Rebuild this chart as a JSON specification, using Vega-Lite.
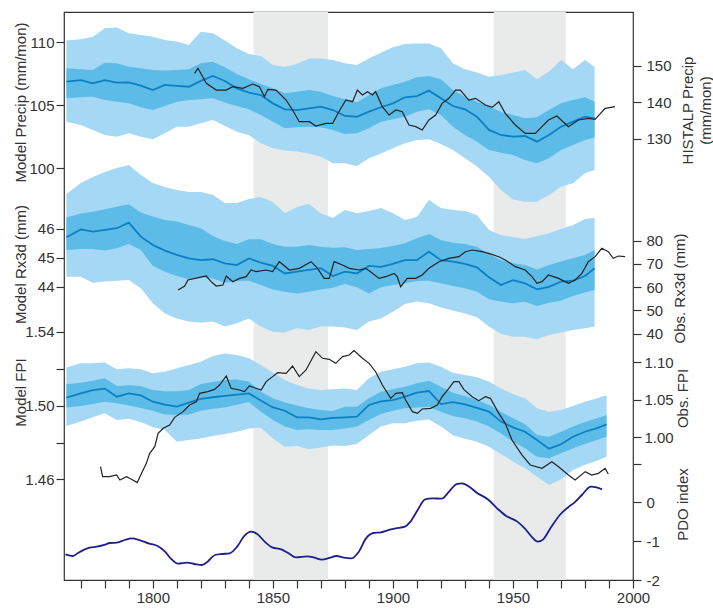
{
"$schema": "https://vega.github.io/schema/vega-lite/v6.json",
"width": 569, "height": 568,
"autosize": {"type": "none"},
"padding": {"left": 64, "top": 12, "right": 80, "bottom": 30},
"background": "white",
"config": {
  "view": {"stroke": "#333", "strokeWidth": 1.2},
  "font": "Liberation Sans",
  "axis": {"labelFont": "Liberation Sans", "titleFont": "Liberation Sans", "labelFontSize": 15, "titleFontSize": 15, "titleFontWeight": "normal", "labelColor": "#333", "titleColor": "#333", "tickColor": "#333", "domainColor": "#333", "tickSize": 8, "tickWidth": 1.2, "labelPadding": 3, "grid": false, "domain": false, "labelOverlap": false, "labelFlush": false}
},
"datasets": {
"bands": [{"year": 1842, "yearEnd": 1873}, {"year": 1942, "yearEnd": 1972}],
"precip": [
{"year":1764,"oHi":110.11,"iHi":107.91,"m":106.85,"iLo":105.53,"oLo":103.68},
{"year":1770,"oHi":110.21,"iHi":107.83,"m":106.98,"iLo":105.61,"oLo":103.41},
{"year":1775,"oHi":110.42,"iHi":107.78,"m":106.72,"iLo":105.66,"oLo":103.02},
{"year":1780,"oHi":111.09,"iHi":108.36,"m":106.98,"iLo":105.40,"oLo":102.62},
{"year":1785,"oHi":111.16,"iHi":108.31,"m":106.77,"iLo":105.26,"oLo":102.49},
{"year":1790,"oHi":110.69,"iHi":108.04,"m":106.80,"iLo":105.13,"oLo":102.75},
{"year":1795,"oHi":110.56,"iHi":107.91,"m":106.53,"iLo":104.82,"oLo":102.49},
{"year":1800,"oHi":110.42,"iHi":107.78,"m":106.19,"iLo":104.60,"oLo":102.28},
{"year":1805,"oHi":110.16,"iHi":107.73,"m":106.59,"iLo":104.92,"oLo":102.75},
{"year":1810,"oHi":110.03,"iHi":107.78,"m":106.51,"iLo":105.26,"oLo":103.28},
{"year":1815,"oHi":109.76,"iHi":107.83,"m":106.45,"iLo":105.40,"oLo":103.28},
{"year":1820,"oHi":110.82,"iHi":108.31,"m":106.91,"iLo":105.45,"oLo":103.55},
{"year":1825,"oHi":110.69,"iHi":108.44,"m":107.30,"iLo":105.53,"oLo":103.81},
{"year":1830,"oHi":110.11,"iHi":107.99,"m":106.91,"iLo":105.19,"oLo":103.33},
{"year":1835,"oHi":109.50,"iHi":107.46,"m":106.32,"iLo":104.92,"oLo":102.88},
{"year":1840,"oHi":109.05,"iHi":107.04,"m":105.98,"iLo":104.66,"oLo":102.62},
{"year":1845,"oHi":108.89,"iHi":106.67,"m":105.79,"iLo":104.21,"oLo":101.96},
{"year":1850,"oHi":108.18,"iHi":106.32,"m":105.13,"iLo":103.68,"oLo":101.56},
{"year":1855,"oHi":108.04,"iHi":105.93,"m":104.66,"iLo":103.15,"oLo":101.38},
{"year":1860,"oHi":108.25,"iHi":106.06,"m":104.60,"iLo":103.23,"oLo":101.30},
{"year":1865,"oHi":108.70,"iHi":106.19,"m":104.74,"iLo":103.28,"oLo":101.16},
{"year":1870,"oHi":108.70,"iHi":106.06,"m":104.87,"iLo":103.23,"oLo":100.90},
{"year":1875,"oHi":108.57,"iHi":105.71,"m":104.60,"iLo":103.02,"oLo":100.37},
{"year":1880,"oHi":108.31,"iHi":105.45,"m":104.13,"iLo":102.70,"oLo":100.37},
{"year":1885,"oHi":108.18,"iHi":105.19,"m":104.07,"iLo":102.75,"oLo":100.16},
{"year":1890,"oHi":108.70,"iHi":105.79,"m":104.47,"iLo":103.15,"oLo":100.77},
{"year":1895,"oHi":109.15,"iHi":106.32,"m":104.82,"iLo":103.68,"oLo":101.16},
{"year":1900,"oHi":109.58,"iHi":106.59,"m":105.13,"iLo":103.86,"oLo":101.56},
{"year":1905,"oHi":109.84,"iHi":106.85,"m":105.61,"iLo":104.07,"oLo":101.96},
{"year":1910,"oHi":109.89,"iHi":107.20,"m":105.71,"iLo":104.47,"oLo":102.22},
{"year":1915,"oHi":109.89,"iHi":107.30,"m":106.14,"iLo":104.66,"oLo":102.28},
{"year":1920,"oHi":109.50,"iHi":107.04,"m":105.53,"iLo":104.21,"oLo":101.91},
{"year":1925,"oHi":108.31,"iHi":106.19,"m":104.92,"iLo":103.28,"oLo":101.43},
{"year":1930,"oHi":107.83,"iHi":105.66,"m":104.66,"iLo":102.62,"oLo":100.77},
{"year":1935,"oHi":107.57,"iHi":105.26,"m":104.07,"iLo":102.09,"oLo":100.11},
{"year":1940,"oHi":107.25,"iHi":104.87,"m":103.02,"iLo":101.43,"oLo":99.31},
{"year":1945,"oHi":107.38,"iHi":104.47,"m":102.62,"iLo":101.22,"oLo":98.25},
{"year":1950,"oHi":107.57,"iHi":104.21,"m":102.49,"iLo":101.03,"oLo":97.51},
{"year":1955,"oHi":107.78,"iHi":103.94,"m":102.54,"iLo":100.64,"oLo":97.33},
{"year":1960,"oHi":107.04,"iHi":104.02,"m":102.09,"iLo":100.37,"oLo":97.33},
{"year":1965,"oHi":107.65,"iHi":104.60,"m":102.62,"iLo":100.77,"oLo":97.86},
{"year":1970,"oHi":108.57,"iHi":105.13,"m":103.28,"iLo":101.43,"oLo":98.52},
{"year":1975,"oHi":107.83,"iHi":105.40,"m":103.68,"iLo":101.83,"oLo":98.78},
{"year":1980,"oHi":108.57,"iHi":105.61,"m":104.07,"iLo":102.22,"oLo":99.58},
{"year":1984,"oHi":108.04,"iHi":105.26,"m":103.94,"iLo":102.43,"oLo":99.84}
],
"histalp": [
{"year":1817.4,"v":147.86},{"year":1818.8,"v":149.23},{"year":1822.3,"v":145.13},{"year":1826.4,"v":143.30},{"year":1830.5,"v":143.30},{"year":1833.3,"v":144.22},{"year":1837.5,"v":143.76},{"year":1841.6,"v":144.94},{"year":1844.4,"v":144.22},{"year":1846.5,"v":141.48},{"year":1847.9,"v":143.49},{"year":1851.3,"v":143.30},{"year":1855.5,"v":140.57},{"year":1858.2,"v":137.84},{"year":1861.0,"v":134.65},{"year":1865.2,"v":134.65},{"year":1867.9,"v":133.47},{"year":1872.1,"v":134.20},{"year":1874.9,"v":134.20},{"year":1877.6,"v":137.5},{"year":1880.4,"v":140.57},{"year":1883.2,"v":140.12},{"year":1885.2,"v":143.30},{"year":1887.3,"v":141.94},{"year":1889.4,"v":142.85},{"year":1891.5,"v":141.94},{"year":1892.8,"v":142.85},{"year":1895.6,"v":138.75},{"year":1898.4,"v":136.47},{"year":1901.2,"v":137.84},{"year":1903.9,"v":137.39},{"year":1906.7,"v":133.74},{"year":1909.5,"v":133.29},{"year":1912.2,"v":132.38},{"year":1915.0,"v":135.11},{"year":1917.8,"v":136.47},{"year":1920.5,"v":139.66},{"year":1923.3,"v":141.03},{"year":1926.1,"v":143.30},{"year":1928.1,"v":143.30},{"year":1931.6,"v":140.57},{"year":1934.4,"v":141.03},{"year":1938.5,"v":139.21},{"year":1941.3,"v":138.57},{"year":1944.1,"v":140.12},{"year":1946.8,"v":136.93},{"year":1951.0,"v":133.74},{"year":1955.1,"v":131.46},{"year":1959.3,"v":131.46},{"year":1962.1,"v":133.29},{"year":1964.8,"v":135.11},{"year":1968.3,"v":136.20},{"year":1973.1,"v":133.29},{"year":1977.3,"v":135.11},{"year":1981.4,"v":135.56},{"year":1984.2,"v":135.29},{"year":1988.4,"v":138.30},{"year":1992.5,"v":138.75}
],
"rx3d": [
{"year":1764,"oHi":47.19,"iHi":46.38,"m":45.70,"iLo":45.26,"oLo":44.34},
{"year":1770,"oHi":47.57,"iHi":46.52,"m":45.97,"iLo":45.29,"oLo":44.34},
{"year":1775,"oHi":47.78,"iHi":46.58,"m":45.89,"iLo":45.29,"oLo":44.13},
{"year":1780,"oHi":47.95,"iHi":46.66,"m":45.95,"iLo":45.24,"oLo":44.17},
{"year":1785,"oHi":48.09,"iHi":46.75,"m":46.01,"iLo":45.32,"oLo":44.20},
{"year":1790,"oHi":48.19,"iHi":46.84,"m":46.20,"iLo":45.47,"oLo":44.22},
{"year":1795,"oHi":47.85,"iHi":46.55,"m":45.72,"iLo":45.26,"oLo":43.94},
{"year":1800,"oHi":47.57,"iHi":46.41,"m":45.43,"iLo":44.71,"oLo":43.42},
{"year":1805,"oHi":47.43,"iHi":46.29,"m":45.24,"iLo":44.51,"oLo":43.07},
{"year":1810,"oHi":47.33,"iHi":46.24,"m":45.09,"iLo":44.36,"oLo":42.90},
{"year":1815,"oHi":47.26,"iHi":46.12,"m":44.97,"iLo":44.25,"oLo":42.79},
{"year":1820,"oHi":47.26,"iHi":46.01,"m":44.91,"iLo":44.32,"oLo":42.75},
{"year":1825,"oHi":47.16,"iHi":45.74,"m":44.94,"iLo":44.28,"oLo":42.79},
{"year":1830,"oHi":46.88,"iHi":45.57,"m":44.80,"iLo":44.13,"oLo":42.62},
{"year":1835,"oHi":46.88,"iHi":45.47,"m":44.74,"iLo":44.19,"oLo":42.73},
{"year":1840,"oHi":47.02,"iHi":45.63,"m":44.97,"iLo":44.20,"oLo":42.90},
{"year":1845,"oHi":47.09,"iHi":45.63,"m":44.82,"iLo":44.05,"oLo":42.62},
{"year":1850,"oHi":46.91,"iHi":45.47,"m":44.71,"iLo":43.90,"oLo":42.44},
{"year":1855,"oHi":46.53,"iHi":45.37,"m":44.45,"iLo":43.82,"oLo":42.41},
{"year":1860,"oHi":46.74,"iHi":45.37,"m":44.51,"iLo":43.76,"oLo":42.56},
{"year":1865,"oHi":46.85,"iHi":45.43,"m":44.57,"iLo":43.82,"oLo":42.50},
{"year":1870,"oHi":46.53,"iHi":45.37,"m":44.63,"iLo":43.90,"oLo":42.62},
{"year":1875,"oHi":46.36,"iHi":45.34,"m":44.36,"iLo":43.96,"oLo":42.62},
{"year":1880,"oHi":46.64,"iHi":45.35,"m":44.51,"iLo":44.09,"oLo":42.59},
{"year":1885,"oHi":46.53,"iHi":45.26,"m":44.45,"iLo":43.97,"oLo":42.50},
{"year":1890,"oHi":46.60,"iHi":45.29,"m":44.71,"iLo":43.76,"oLo":42.79},
{"year":1895,"oHi":46.71,"iHi":45.33,"m":44.68,"iLo":43.97,"oLo":42.90},
{"year":1900,"oHi":46.53,"iHi":45.40,"m":44.78,"iLo":44.05,"oLo":43.13},
{"year":1905,"oHi":46.29,"iHi":45.49,"m":44.91,"iLo":44.11,"oLo":43.40},
{"year":1910,"oHi":46.40,"iHi":45.66,"m":44.91,"iLo":44.19,"oLo":43.48},
{"year":1915,"oHi":46.98,"iHi":45.81,"m":45.20,"iLo":44.20,"oLo":43.42},
{"year":1920,"oHi":46.71,"iHi":45.60,"m":44.91,"iLo":44.11,"oLo":43.28},
{"year":1925,"oHi":46.64,"iHi":45.51,"m":44.86,"iLo":44.02,"oLo":43.17},
{"year":1930,"oHi":46.60,"iHi":45.47,"m":44.78,"iLo":43.94,"oLo":43.07},
{"year":1935,"oHi":46.47,"iHi":45.37,"m":44.66,"iLo":43.82,"oLo":42.94},
{"year":1940,"oHi":45.95,"iHi":45.12,"m":44.32,"iLo":43.56,"oLo":42.62},
{"year":1945,"oHi":45.78,"iHi":44.91,"m":44.05,"iLo":43.48,"oLo":42.36},
{"year":1950,"oHi":45.71,"iHi":44.80,"m":44.22,"iLo":43.42,"oLo":42.27},
{"year":1955,"oHi":45.64,"iHi":44.74,"m":44.11,"iLo":43.47,"oLo":42.27},
{"year":1960,"oHi":45.74,"iHi":44.59,"m":43.90,"iLo":43.33,"oLo":42.18},
{"year":1965,"oHi":45.84,"iHi":44.74,"m":43.99,"iLo":43.44,"oLo":42.33},
{"year":1970,"oHi":45.98,"iHi":44.86,"m":44.17,"iLo":43.51,"oLo":42.41},
{"year":1975,"oHi":46.12,"iHi":44.97,"m":44.20,"iLo":43.67,"oLo":42.50},
{"year":1980,"oHi":46.33,"iHi":45.09,"m":44.36,"iLo":43.79,"oLo":42.56},
{"year":1984,"oHi":46.36,"iHi":45.26,"m":44.63,"iLo":43.88,"oLo":42.62}
],
"rx3dObs": [
{"year":1810.5,"v":58.75},{"year":1813.3,"v":60.47},{"year":1814.6,"v":63.06},{"year":1819.5,"v":64.21},{"year":1822.2,"v":64.78},{"year":1824.3,"v":62.34},{"year":1826.4,"v":60.47},{"year":1829.2,"v":60.90},{"year":1830.6,"v":64.78},{"year":1833.3,"v":62.34},{"year":1836.1,"v":63.77},{"year":1838.9,"v":64.49},{"year":1840.9,"v":67.37},{"year":1843.0,"v":66.65},{"year":1847.2,"v":67.37},{"year":1849.9,"v":66.65},{"year":1852.7,"v":70.96},{"year":1856.9,"v":67.37},{"year":1861.0,"v":68.09},{"year":1865.9,"v":70.96},{"year":1868.6,"v":68.09},{"year":1871.4,"v":63.77},{"year":1873.5,"v":63.77},{"year":1875.5,"v":70.96},{"year":1879.0,"v":69.52},{"year":1881.8,"v":68.09},{"year":1885.9,"v":67.37},{"year":1888.7,"v":68.09},{"year":1891.5,"v":65.93},{"year":1894.2,"v":63.77},{"year":1897.0,"v":64.49},{"year":1900.5,"v":65.93},{"year":1901.8,"v":64.49},{"year":1903.2,"v":60.18},{"year":1906.0,"v":63.77},{"year":1909.5,"v":63.77},{"year":1912.2,"v":65.21},{"year":1915.0,"v":68.09},{"year":1919.2,"v":70.96},{"year":1923.3,"v":72.40},{"year":1927.5,"v":73.11},{"year":1930.2,"v":75.27},{"year":1933.0,"v":75.99},{"year":1937.1,"v":75.27},{"year":1939.9,"v":74.55},{"year":1944.1,"v":73.11},{"year":1946.8,"v":71.68},{"year":1951.0,"v":68.80},{"year":1955.1,"v":67.37},{"year":1957.9,"v":64.49},{"year":1960.0,"v":61.62},{"year":1962.1,"v":62.34},{"year":1964.8,"v":65.21},{"year":1969.0,"v":63.77},{"year":1973.1,"v":61.62},{"year":1975.9,"v":63.06},{"year":1978.7,"v":65.93},{"year":1981.4,"v":70.96},{"year":1984.2,"v":73.11},{"year":1987.0,"v":76.71},{"year":1989.7,"v":75.27},{"year":1991.8,"v":72.40},{"year":1993.9,"v":73.40},{"year":1996.7,"v":73.11}
],
"fpi": [
{"year":1764,"oHi":1.5208,"iHi":1.5116,"m":1.5044,"iLo":1.4990,"oLo":1.4890},
{"year":1770,"oHi":1.5230,"iHi":1.5125,"m":1.5067,"iLo":1.4999,"oLo":1.4914},
{"year":1775,"oHi":1.5230,"iHi":1.5136,"m":1.5085,"iLo":1.5009,"oLo":1.4937},
{"year":1780,"oHi":1.5234,"iHi":1.5149,"m":1.5093,"iLo":1.5022,"oLo":1.4959},
{"year":1785,"oHi":1.5198,"iHi":1.5107,"m":1.5049,"iLo":1.5013,"oLo":1.4923},
{"year":1790,"oHi":1.5203,"iHi":1.5111,"m":1.5067,"iLo":1.5002,"oLo":1.4930},
{"year":1795,"oHi":1.5198,"iHi":1.5107,"m":1.5056,"iLo":1.4988,"oLo":1.4912},
{"year":1800,"oHi":1.5176,"iHi":1.5085,"m":1.5022,"iLo":1.4973,"oLo":1.4883},
{"year":1805,"oHi":1.5185,"iHi":1.5078,"m":1.5006,"iLo":1.4952,"oLo":1.4868},
{"year":1810,"oHi":1.5203,"iHi":1.5078,"m":1.4995,"iLo":1.4950,"oLo":1.4805},
{"year":1815,"oHi":1.5221,"iHi":1.5085,"m":1.5017,"iLo":1.4952,"oLo":1.4814},
{"year":1820,"oHi":1.5239,"iHi":1.5118,"m":1.5037,"iLo":1.4973,"oLo":1.4823},
{"year":1825,"oHi":1.5270,"iHi":1.5129,"m":1.5046,"iLo":1.4984,"oLo":1.4836},
{"year":1830,"oHi":1.5284,"iHi":1.5140,"m":1.5053,"iLo":1.4991,"oLo":1.4847},
{"year":1835,"oHi":1.5275,"iHi":1.5143,"m":1.5060,"iLo":1.5006,"oLo":1.4859},
{"year":1840,"oHi":1.5257,"iHi":1.5132,"m":1.5067,"iLo":1.5020,"oLo":1.4877},
{"year":1845,"oHi":1.5221,"iHi":1.5076,"m":1.5028,"iLo":1.4968,"oLo":1.4881},
{"year":1850,"oHi":1.5179,"iHi":1.5040,"m":1.4991,"iLo":1.4923,"oLo":1.4823},
{"year":1855,"oHi":1.5140,"iHi":1.5017,"m":1.4973,"iLo":1.4887,"oLo":1.4778},
{"year":1860,"oHi":1.5113,"iHi":1.5002,"m":1.4937,"iLo":1.4868,"oLo":1.4782},
{"year":1865,"oHi":1.5094,"iHi":1.4986,"m":1.4937,"iLo":1.4872,"oLo":1.4764},
{"year":1870,"oHi":1.5085,"iHi":1.4977,"m":1.4926,"iLo":1.4868,"oLo":1.4774},
{"year":1875,"oHi":1.5089,"iHi":1.4972,"m":1.4934,"iLo":1.4868,"oLo":1.4785},
{"year":1880,"oHi":1.5093,"iHi":1.4995,"m":1.4937,"iLo":1.4877,"oLo":1.4782},
{"year":1885,"oHi":1.5085,"iHi":1.4995,"m":1.4941,"iLo":1.4887,"oLo":1.4793},
{"year":1890,"oHi":1.5149,"iHi":1.5040,"m":1.5004,"iLo":1.4923,"oLo":1.4841},
{"year":1895,"oHi":1.5185,"iHi":1.5076,"m":1.5024,"iLo":1.4955,"oLo":1.4887},
{"year":1900,"oHi":1.5198,"iHi":1.5089,"m":1.5031,"iLo":1.4973,"oLo":1.4905},
{"year":1905,"oHi":1.5212,"iHi":1.5103,"m":1.5049,"iLo":1.4986,"oLo":1.4905},
{"year":1910,"oHi":1.5230,"iHi":1.5122,"m":1.5071,"iLo":1.4991,"oLo":1.4919},
{"year":1915,"oHi":1.5234,"iHi":1.5136,"m":1.5080,"iLo":1.4995,"oLo":1.4926},
{"year":1920,"oHi":1.5212,"iHi":1.5103,"m":1.5009,"iLo":1.4968,"oLo":1.4887},
{"year":1925,"oHi":1.5179,"iHi":1.5071,"m":1.5020,"iLo":1.4944,"oLo":1.4840},
{"year":1930,"oHi":1.5167,"iHi":1.5053,"m":1.5008,"iLo":1.4932,"oLo":1.4821},
{"year":1935,"oHi":1.5154,"iHi":1.5031,"m":1.4988,"iLo":1.4914,"oLo":1.4805},
{"year":1940,"oHi":1.5131,"iHi":1.5004,"m":1.4968,"iLo":1.4887,"oLo":1.4778},
{"year":1945,"oHi":1.5094,"iHi":1.4968,"m":1.4914,"iLo":1.4850,"oLo":1.4738},
{"year":1950,"oHi":1.5064,"iHi":1.4932,"m":1.4883,"iLo":1.4805,"oLo":1.4697},
{"year":1955,"oHi":1.5040,"iHi":1.4901,"m":1.4859,"iLo":1.4769,"oLo":1.4661},
{"year":1960,"oHi":1.4986,"iHi":1.4841,"m":1.4814,"iLo":1.4724,"oLo":1.4615},
{"year":1965,"oHi":1.4968,"iHi":1.4832,"m":1.4767,"iLo":1.4715,"oLo":1.4570},
{"year":1970,"oHi":1.4977,"iHi":1.4859,"m":1.4791,"iLo":1.4742,"oLo":1.4601},
{"year":1975,"oHi":1.4999,"iHi":1.4887,"m":1.4832,"iLo":1.4769,"oLo":1.4651},
{"year":1980,"oHi":1.5022,"iHi":1.4912,"m":1.4859,"iLo":1.4793,"oLo":1.4680},
{"year":1985,"oHi":1.5040,"iHi":1.4932,"m":1.4879,"iLo":1.4814,"oLo":1.4702},
{"year":1989,"oHi":1.5058,"iHi":1.4950,"m":1.4899,"iLo":1.4832,"oLo":1.4724}
],
"fpiObs": [
{"year":1778.2,"v":0.9607},{"year":1779.1,"v":0.9474},{"year":1782.1,"v":0.9474},{"year":1784.9,"v":0.9496},{"year":1786.3,"v":0.9429},{"year":1789.0,"v":0.9474},{"year":1791.1,"v":0.9438},{"year":1793.5,"v":0.9394},{"year":1795.3,"v":0.9518},{"year":1797.3,"v":0.9652},{"year":1798.7,"v":0.9786},{"year":1800.8,"v":0.9875},{"year":1802.2,"v":1.0053},{"year":1804.3,"v":1.0120},{"year":1807.0,"v":1.0164},{"year":1809.1,"v":1.0267},{"year":1812.6,"v":1.0343},{"year":1815.3,"v":1.0432},{"year":1818.1,"v":1.0476},{"year":1819.5,"v":1.0588},{"year":1822.9,"v":1.0610},{"year":1825.7,"v":1.0641},{"year":1827.8,"v":1.0699},{"year":1830.6,"v":1.0820},{"year":1832.6,"v":1.0655},{"year":1836.1,"v":1.0632},{"year":1838.2,"v":1.0610},{"year":1840.2,"v":1.0686},{"year":1843.0,"v":1.0655},{"year":1845.1,"v":1.0632},{"year":1847.2,"v":1.0744},{"year":1849.9,"v":1.0811},{"year":1852.0,"v":1.0864},{"year":1855.5,"v":1.0855},{"year":1858.2,"v":1.0953},{"year":1861.0,"v":1.0811},{"year":1863.8,"v":1.0900},{"year":1867.9,"v":1.1145},{"year":1870.7,"v":1.1056},{"year":1873.5,"v":1.1042},{"year":1876.2,"v":1.0989},{"year":1879.0,"v":1.1078},{"year":1881.8,"v":1.1100},{"year":1883.8,"v":1.1158},{"year":1887.3,"v":1.1056},{"year":1890.1,"v":1.0989},{"year":1892.8,"v":1.0877},{"year":1895.6,"v":1.0699},{"year":1899.1,"v":1.0521},{"year":1901.2,"v":1.0588},{"year":1903.9,"v":1.0597},{"year":1905.3,"v":1.0499},{"year":1908.1,"v":1.0343},{"year":1910.2,"v":1.0320},{"year":1912.2,"v":1.0378},{"year":1915.7,"v":1.0387},{"year":1918.5,"v":1.0432},{"year":1920.5,"v":1.0543},{"year":1923.3,"v":1.0655},{"year":1925.4,"v":1.0744},{"year":1927.5,"v":1.0744},{"year":1929.5,"v":1.0641},{"year":1933.0,"v":1.0543},{"year":1935.8,"v":1.0490},{"year":1938.5,"v":1.0543},{"year":1940.6,"v":1.0521},{"year":1944.1,"v":1.0320},{"year":1946.8,"v":1.0187},{"year":1949.6,"v":0.9964},{"year":1953.8,"v":0.9763},{"year":1957.2,"v":0.9630},{"year":1962.1,"v":0.9585},{"year":1966.2,"v":0.9674},{"year":1969.0,"v":0.9607},{"year":1973.1,"v":0.9496},{"year":1975.9,"v":0.9429},{"year":1980.1,"v":0.9541},{"year":1982.8,"v":0.9496},{"year":1985.6,"v":0.9518},{"year":1988.4,"v":0.9585},{"year":1989.7,"v":0.9510}
],
"pdo": [
{"year":1763.6,"v":-1.338},{"year":1766.7,"v":-1.381},{"year":1769.0,"v":-1.295},{"year":1773.6,"v":-1.165},{"year":1776.7,"v":-1.140},{"year":1779.8,"v":-1.096},{"year":1782.1,"v":-1.045},{"year":1785.1,"v":-1.036},{"year":1788.2,"v":-0.968},{"year":1791.3,"v":-0.925},{"year":1794.4,"v":-0.968},{"year":1798.2,"v":-1.053},{"year":1802.0,"v":-1.122},{"year":1805.1,"v":-1.269},{"year":1807.4,"v":-1.441},{"year":1810.5,"v":-1.578},{"year":1814.3,"v":-1.552},{"year":1817.4,"v":-1.587},{"year":1820.5,"v":-1.613},{"year":1822.8,"v":-1.527},{"year":1825.9,"v":-1.355},{"year":1828.9,"v":-1.329},{"year":1832.0,"v":-1.312},{"year":1835.1,"v":-1.140},{"year":1838.1,"v":-0.864},{"year":1840.9,"v":-0.753},{"year":1843.5,"v":-0.813},{"year":1846.6,"v":-1.011},{"year":1849.7,"v":-1.157},{"year":1853.5,"v":-1.208},{"year":1856.6,"v":-1.312},{"year":1859.6,"v":-1.415},{"year":1864.3,"v":-1.389},{"year":1867.3,"v":-1.424},{"year":1870.4,"v":-1.475},{"year":1873.5,"v":-1.432},{"year":1876.5,"v":-1.381},{"year":1879.6,"v":-1.424},{"year":1882.7,"v":-1.441},{"year":1885.8,"v":-1.269},{"year":1888.8,"v":-0.925},{"year":1891.9,"v":-0.787},{"year":1895.0,"v":-0.770},{"year":1898.0,"v":-0.710},{"year":1901.1,"v":-0.667},{"year":1905.0,"v":-0.624},{"year":1907.3,"v":-0.494},{"year":1910.3,"v":-0.194},{"year":1913.4,"v":0.082},{"year":1916.5,"v":0.108},{"year":1920.3,"v":0.099},{"year":1923.4,"v":0.280},{"year":1926.5,"v":0.477},{"year":1928.8,"v":0.495},{"year":1931.8,"v":0.409},{"year":1934.9,"v":0.254},{"year":1939.5,"v":0.082},{"year":1943.4,"v":-0.150},{"year":1947.2,"v":-0.348},{"year":1951.8,"v":-0.494},{"year":1954.9,"v":-0.667},{"year":1958.0,"v":-0.899},{"year":1960.3,"v":-1.011},{"year":1962.6,"v":-0.950},{"year":1965.6,"v":-0.667},{"year":1969.5,"v":-0.322},{"year":1973.3,"v":-0.107},{"year":1975.6,"v":-0.004},{"year":1978.7,"v":0.194},{"year":1982.5,"v":0.409},{"year":1984.8,"v":0.391},{"year":1987.1,"v":0.340}
]
},
"encoding": {
  "x": {"field": "year", "type": "quantitative", "scale": {"domain": [1763, 2000], "nice": false, "zero": false},
        "axis": {"values": [1770,1780,1790,1800,1810,1820,1830,1840,1850,1860,1870,1880,1890,1900,1910,1920,1930,1940,1950,1960,1970,1980,1990,2000], "labelExpr": "datum.value % 50 == 0 ? '' + datum.value : ''", "title": null, "labelPadding": 2}}
},
"layer": [
  {"data": {"name": "bands"}, "mark": {"type": "rect", "color": "#e9ebea"}, "encoding": {"x2": {"field": "yearEnd"}}},
  {"data": {"name": "precip"}, "layer": [
    {"mark": {"type": "area", "color": "#a5d8f4"}, "encoding": {
      "y": {"field": "oHi", "type": "quantitative", "scale": {"domain": [67.302, 112.381], "nice": false, "zero": false},
            "axis": {"orient": "left", "values": [100, 105, 110], "labelPadding": 2, "title": "Model Precip (mm/mon)", "titleX": -44, "titleY": 90, "titleAngle": -90, "titleAlign": "center", "titleBaseline": "middle"}},
      "y2": {"field": "oLo"}}},
    {"mark": {"type": "area", "color": "#5dbce7"}, "encoding": {"y": {"field": "iHi", "type": "quantitative"}, "y2": {"field": "iLo"}}},
    {"mark": {"type": "line", "color": "#0b7fc4", "strokeWidth": 1.8}, "encoding": {"y": {"field": "m", "type": "quantitative"}}}
  ]},
  {"data": {"name": "histalp"}, "mark": {"type": "line", "color": "#222", "strokeWidth": 1.2}, "encoding": {
    "y": {"field": "v", "type": "quantitative", "scale": {"domain": [9.43, 164.62], "nice": false, "zero": false},
          "axis": {"orient": "right", "values": [130, 140, 150], "labelPadding": 5, "title": ["HISTALP Precip", "(mm/mon)"], "titleX": 54, "titleY": 98, "titleAngle": -90, "titleAlign": "center", "titleBaseline": "middle", "titleLineHeight": 18}}}},
  {"data": {"name": "rx3d"}, "layer": [
    {"mark": {"type": "area", "color": "#a5d8f4"}, "encoding": {
      "y": {"field": "oHi", "type": "quantitative", "scale": {"domain": [33.879, 53.466], "nice": false, "zero": false},
            "axis": {"orient": "left", "values": [44, 45, 46], "labelPadding": 2, "title": "Model Rx3d (mm)", "titleX": -44, "titleY": 252, "titleAngle": -90, "titleAlign": "center", "titleBaseline": "middle"}},
      "y2": {"field": "oLo"}}},
    {"mark": {"type": "area", "color": "#5dbce7"}, "encoding": {"y": {"field": "iHi", "type": "quantitative"}, "y2": {"field": "iLo"}}},
    {"mark": {"type": "line", "color": "#0b7fc4", "strokeWidth": 1.8}, "encoding": {"y": {"field": "m", "type": "quantitative"}}}
  ]},
  {"data": {"name": "rx3dObs"}, "mark": {"type": "line", "color": "#222", "strokeWidth": 1.2}, "encoding": {
    "y": {"field": "v", "type": "quantitative", "scale": {"domain": [-66.25, 178.58], "nice": false, "zero": false},
          "axis": {"orient": "right", "values": [40, 50, 60, 70, 80], "labelPadding": 5, "title": "Obs. Rx3d (mm)", "titleX": 46, "titleY": 276, "titleAngle": -90, "titleAlign": "center", "titleBaseline": "middle"}}}},
  {"data": {"name": "fpi"}, "layer": [
    {"mark": {"type": "area", "color": "#a5d8f4"}, "encoding": {
      "y": {"field": "oHi", "type": "quantitative", "scale": {"domain": [1.40549, 1.71356], "nice": false, "zero": false},
            "axis": {"orient": "left", "values": [1.46, 1.48, 1.5, 1.52, 1.54], "labelPadding": 2, "labelExpr": "(abs(datum.value - 1.48) < 0.001 || abs(datum.value - 1.52) < 0.001) ? '' : format(datum.value, '.2f')", "title": "Model FPI", "titleX": -44, "titleY": 380, "titleAngle": -90, "titleAlign": "center", "titleBaseline": "middle"}},
      "y2": {"field": "oLo"}}},
    {"mark": {"type": "area", "color": "#5dbce7"}, "encoding": {"y": {"field": "iHi", "type": "quantitative"}, "y2": {"field": "iLo"}}},
    {"mark": {"type": "line", "color": "#0b7fc4", "strokeWidth": 1.8}, "encoding": {"y": {"field": "m", "type": "quantitative"}}}
  ]},
  {"data": {"name": "fpiObs"}, "mark": {"type": "line", "color": "#222", "strokeWidth": 1.2}, "encoding": {
    "y": {"field": "v", "type": "quantitative", "scale": {"domain": [0.80922, 1.56858], "nice": false, "zero": false},
          "axis": {"orient": "right", "values": [1.0, 1.05, 1.1], "format": ".2f", "labelPadding": 3, "title": "Obs. FPI", "titleX": 49, "titleY": 386, "titleAngle": -90, "titleAlign": "center", "titleBaseline": "middle"}}}},
  {"data": {"name": "pdo"}, "mark": {"type": "line", "color": "#1f1f8c", "strokeWidth": 1.8, "interpolate": "monotone"}, "encoding": {
    "y": {"field": "v", "type": "quantitative", "scale": {"domain": [-2, 12.658], "nice": false, "zero": false},
          "axis": {"orient": "right", "values": [-2, -1, 0, 1], "labelPadding": 5, "labelExpr": "datum.value == 1 ? '' : '' + datum.value", "title": "PDO index", "titleX": 49, "titleY": 492, "titleAngle": -90, "titleAlign": "center", "titleBaseline": "middle"}}}}
],
"resolve": {"scale": {"y": "independent"}}
}
